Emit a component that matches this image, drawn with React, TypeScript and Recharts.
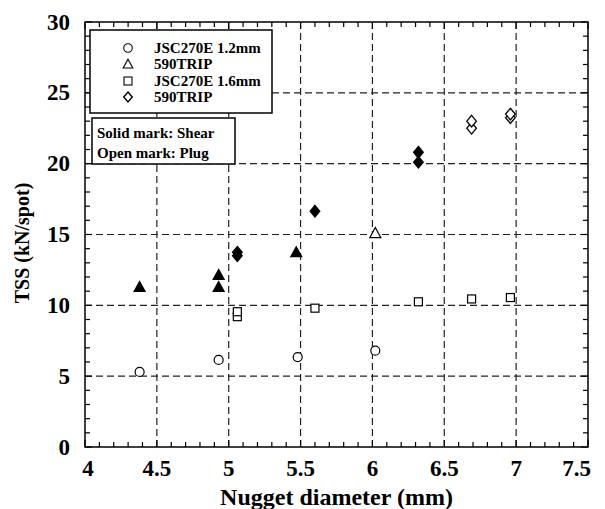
import React from 'react';
import { ScatterChart, Scatter, XAxis, YAxis, ReferenceLine, ReferenceArea } from 'recharts';

// ---------- data ----------
const jsc12Plug = [
  { d: 4.38, tss: 5.3 },
  { d: 4.93, tss: 6.15 },
  { d: 5.48, tss: 6.35 },
  { d: 6.02, tss: 6.8 },
];
const trip12Shear = [
  { d: 4.38, tss: 11.3 },
  { d: 4.93, tss: 12.15 },
  { d: 4.93, tss: 11.3 },
  { d: 5.47, tss: 13.75 },
];
const trip12Plug = [{ d: 6.02, tss: 15.1 }];
const jsc16Plug = [
  { d: 5.06, tss: 9.2 },
  { d: 5.06, tss: 9.55 },
  { d: 5.6, tss: 9.8 },
  { d: 6.32, tss: 10.25 },
  { d: 6.69, tss: 10.45 },
  { d: 6.96, tss: 10.55 },
];
const trip16Shear = [
  { d: 5.06, tss: 13.5 },
  { d: 5.06, tss: 13.75 },
  { d: 5.6, tss: 16.65 },
  { d: 6.32, tss: 20.1 },
  { d: 6.32, tss: 20.8 },
];
const trip16Plug = [
  { d: 6.69, tss: 22.5 },
  { d: 6.69, tss: 23.0 },
  { d: 6.96, tss: 23.25 },
  { d: 6.96, tss: 23.5 },
];

const xMajorTicks = [4, 4.5, 5, 5.5, 6, 6.5, 7, 7.5];
const yMajorTicks = [0, 5, 10, 15, 20, 25, 30];
const xGridValues = [4.5, 5, 5.5, 6, 6.5, 7];
const yGridValues = [5, 10, 15, 20, 25];
const legendLabels = ['JSC270E 1.2mm', '590TRIP', 'JSC270E 1.6mm', '590TRIP'];
const noteLabels = ['Solid mark: Shear', 'Open mark: Plug'];
const xTitle = 'Nugget diameter (mm)';
const yTitle = 'TSS (kN/spot)';

const X_MIN = 4, X_MAX = 7.5, Y_MIN = 0, Y_MAX = 30;

// minor tick positions (0.1 on x, 1 on y)
const xTicks: number[] = [];
for (let i = 0; i <= 35; i++) xTicks.push(Math.round((X_MIN + i * 0.1) * 10) / 10);
const yTicks: number[] = [];
for (let i = 0; i <= 30; i++) yTicks.push(i);

// tick-mark "series" (positions along the frame, drawn through the chart scales)
const xTickMarks = xTicks.map((v) => ({ d: v, tss: Y_MIN, major: xMajorTicks.some((m) => Math.abs(m - v) < 1e-6) }));
const yTickMarks = yTicks.map((v) => ({ d: X_MIN, tss: v, major: yMajorTicks.some((m) => Math.abs(m - v) < 1e-6) }));

// ---------- layout ----------
const W = 597;
const H = 501;
const PLOT_LEFT = 77;
const PLOT_RIGHT = 580;
const PLOT_TOP = 14;
const PLOT_BOTTOM = 439;
const FONT = "'Liberation Serif', 'Times New Roman', serif";
const MAJOR_LEN = 7;
const MINOR_LEN = 5;
const PLOT_W = PLOT_RIGHT - PLOT_LEFT;
const PLOT_H = PLOT_BOTTOM - PLOT_TOP;

const isXMajor = (v: number) => xMajorTicks.some((m) => Math.abs(m - v) < 1e-6);
const isYMajor = (v: number) => yMajorTicks.some((m) => Math.abs(m - v) < 1e-6);

const XTick = (props: any) => {
  const { x, payload } = props;
  const v = payload.value as number;
  if (!isXMajor(v)) return <g />;
  let tx = x;
  let anchor: 'middle' | 'end' = 'middle';
  if (Math.abs(v - X_MAX) < 1e-6) { tx = x + 3; anchor = 'end'; }
  if (Math.abs(v - X_MIN) < 1e-6) { tx = x + 3; }
  return (
    <text x={tx} y={PLOT_BOTTOM + 21} textAnchor={anchor} dominantBaseline="central"
      fontFamily={FONT} fontWeight="bold" fontSize={23} fill="#000">
      {String(Math.round(v * 10) / 10)}
    </text>
  );
};

const YTick = (props: any) => {
  const { y, payload } = props;
  const v = payload.value as number;
  if (!isYMajor(v)) return <g />;
  return (
    <text x={PLOT_LEFT - 15} y={y} textAnchor="end" dominantBaseline="central"
      fontFamily={FONT} fontWeight="bold" fontSize={23} fill="#000">
      {String(v)}
    </text>
  );
};

// tick marks drawn as scatter shapes: bottom + top for x, left + right for y
const TICK_COLOR = '#000';
const TICK_W = 1.2;
const xTickShape = (p: any) => {
  const len = p.payload && p.payload.major ? MAJOR_LEN : MINOR_LEN;
  return (
    <g>
      <line x1={p.cx} y1={p.cy} x2={p.cx} y2={p.cy - len} stroke={TICK_COLOR} strokeWidth={TICK_W} />
      <line x1={p.cx} y1={p.cy - PLOT_H} x2={p.cx} y2={p.cy - PLOT_H + len} stroke={TICK_COLOR} strokeWidth={TICK_W} />
    </g>
  );
};
const yTickShape = (p: any) => {
  const len = p.payload && p.payload.major ? MAJOR_LEN : MINOR_LEN;
  return (
    <g>
      <line x1={p.cx} y1={p.cy} x2={p.cx + len} y2={p.cy} stroke={TICK_COLOR} strokeWidth={TICK_W} />
      <line x1={p.cx + PLOT_W} y1={p.cy} x2={p.cx + PLOT_W - len} y2={p.cy} stroke={TICK_COLOR} strokeWidth={TICK_W} />
    </g>
  );
};

// ---------- markers ----------
const circleShape = (filled: boolean, r = 4.5) => (p: any) => (
  <circle cx={p.cx} cy={p.cy} r={r} fill={filled ? '#000' : '#fff'} stroke="#000" strokeWidth={1.2} />
);
const triPoints = (cx: number, cy: number, s: number) =>
  `${cx},${cy - s} ${cx + s},${cy + s * 0.82} ${cx - s},${cy + s * 0.82}`;
const triangleShape = (filled: boolean, s = 5.5) => (p: any) => (
  <polygon points={triPoints(p.cx, p.cy, s)} fill={filled ? '#000' : '#fff'} stroke="#000" strokeWidth={1.2} />
);
const squareShape = (filled: boolean, s = 4) => (p: any) => (
  <rect x={p.cx - s} y={p.cy - s} width={2 * s} height={2 * s} fill={filled ? '#000' : '#fff'} stroke="#000" strokeWidth={1.2} />
);
const diaPoints = (cx: number, cy: number, w: number, h: number) =>
  `${cx},${cy - h} ${cx + w},${cy} ${cx},${cy + h} ${cx - w},${cy}`;
const diamondShape = (filled: boolean, w = 4.8, h = 5.8) => (p: any) => (
  <polygon points={diaPoints(p.cx, p.cy, w, h)} fill={filled ? '#000' : '#fff'} stroke="#000" strokeWidth={1.3} />
);

// ---------- legend / titles overlay ----------
const LegendOverlay = () => {
  const rows = [40, 56, 73, 89];
  const sx = 120;
  const tx = 146;
  return (
    <svg width={W} height={H} style={{ position: 'absolute', left: 0, top: 0, pointerEvents: 'none' }}>
      <rect x={82} y={22} width={182} height={83} fill="#fff" stroke="#000" strokeWidth={1.5} />
      <circle cx={sx} cy={rows[0]} r={4.3} fill="#fff" stroke="#000" strokeWidth={1.1} />
      <polygon points={triPoints(sx, rows[1], 4.8)} fill="#fff" stroke="#000" strokeWidth={1.1} />
      <rect x={sx - 4} y={rows[2] - 4} width={8} height={8} fill="#fff" stroke="#000" strokeWidth={1.1} />
      <polygon points={diaPoints(sx, rows[3], 4.3, 5)} fill="#fff" stroke="#000" strokeWidth={1.4} />
      {legendLabels.map((l, i) => (
        <text key={i} x={tx} y={rows[i]} dominantBaseline="central" fontFamily={FONT}
          fontWeight="bold" fontSize={15} fill="#000">{l}</text>
      ))}
      <rect x={84} y={110} width={143} height={46} fill="#fff" stroke="#000" strokeWidth={1.5} />
      {noteLabels.map((l, i) => (
        <text key={i} x={89} y={125 + i * 20} dominantBaseline="central" fontFamily={FONT}
          fontWeight="bold" fontSize={15} fill="#000">{l}</text>
      ))}
      <text x={(PLOT_LEFT + PLOT_RIGHT) / 2} y={H - 4} textAnchor="middle" fontFamily={FONT}
        fontWeight="bold" fontSize={24} fill="#000">{xTitle}</text>
      <text x={0} y={0} transform={`translate(14, 235) rotate(-90)`} textAnchor="middle"
        dominantBaseline="central" fontFamily={FONT} fontWeight="bold" fontSize={20} fill="#000">{yTitle}</text>
    </svg>
  );
};

export default function App() {
  return (
    <div style={{ position: 'relative', width: W, height: H }}>
      <ScatterChart width={W} height={H}
        margin={{ top: PLOT_TOP, right: W - PLOT_RIGHT, left: 0, bottom: 0 }}>
        <XAxis type="number" dataKey="d" domain={[X_MIN, X_MAX]} ticks={xTicks} interval={0}
          tick={XTick} tickLine={false} axisLine={false} height={H - PLOT_BOTTOM}
          tickSize={0} tickMargin={0} />
        <YAxis type="number" dataKey="tss" domain={[Y_MIN, Y_MAX]} ticks={yTicks} interval={0}
          tick={YTick} tickLine={false} axisLine={false} width={PLOT_LEFT}
          tickSize={0} tickMargin={0} />
        {xGridValues.map((v) => (
          <ReferenceLine key={'gx' + v} x={v} stroke="#222" strokeWidth={1.2} strokeDasharray="7 4" />
        ))}
        {yGridValues.map((v) => (
          <ReferenceLine key={'gy' + v} y={v} stroke="#222" strokeWidth={1.2} strokeDasharray="7 4" />
        ))}
        <ReferenceArea x1={X_MIN} x2={X_MAX} y1={Y_MIN} y2={Y_MAX} fill="none" fillOpacity={0} stroke="#000" strokeWidth={1.5} />
        <Scatter data={xTickMarks} shape={xTickShape} isAnimationActive={false} />
        <Scatter data={yTickMarks} shape={yTickShape} isAnimationActive={false} />
        <Scatter data={jsc12Plug} shape={circleShape(false)} isAnimationActive={false} />
        <Scatter data={trip12Shear} shape={triangleShape(true)} isAnimationActive={false} />
        <Scatter data={trip12Plug} shape={triangleShape(false)} isAnimationActive={false} />
        <Scatter data={jsc16Plug} shape={squareShape(false)} isAnimationActive={false} />
        <Scatter data={trip16Shear} shape={diamondShape(true)} isAnimationActive={false} />
        <Scatter data={trip16Plug} shape={diamondShape(false)} isAnimationActive={false} />
      </ScatterChart>
      <LegendOverlay />
    </div>
  );
}
